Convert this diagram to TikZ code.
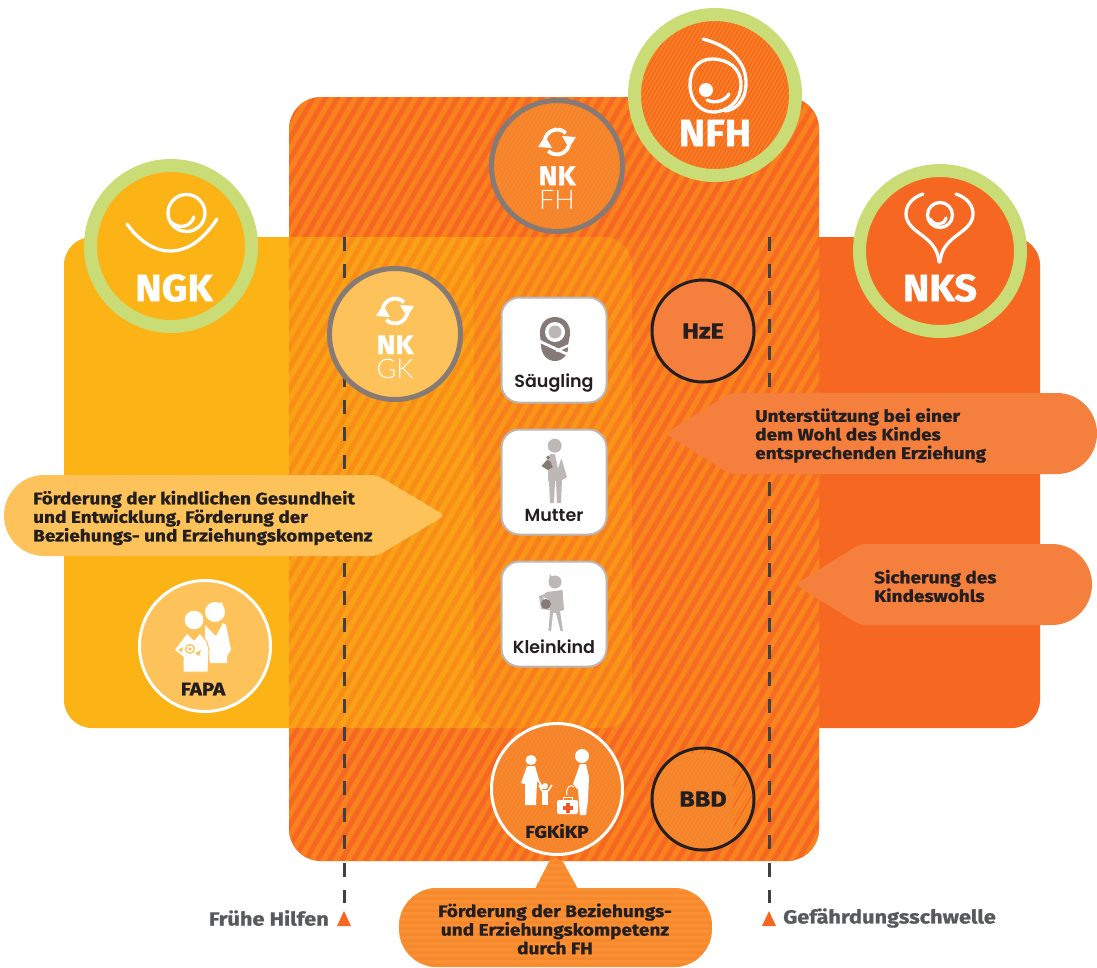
\documentclass[tikz,border=0pt]{standalone}
\usepackage{fontspec}
\setmainfont{Fira Sans}
\newfontfamily\din[UprightFont=* Bold,FakeBold=1.0,FakeStretch=1.145]{Fira Sans}
\newfontfamily\dinhead[UprightFont=* Bold,FakeBold=1.3,FakeStretch=1.05]{Fira Sans}
\newfontfamily\dinlight{Lato Light}
\newfontfamily\gothic{Poppins SemiBold}
\definecolor{cyellow}{HTML}{FBB316}
\definecolor{corange}{HTML}{F66722}
\definecolor{cgreen}{HTML}{C9DC76}
\definecolor{cpale}{HTML}{FEC25B}
\definecolor{cbubble}{HTML}{F5803E}
\definecolor{cgrey}{HTML}{857A75}
\definecolor{clgrey}{HTML}{BDB8B5}
\definecolor{cdark}{HTML}{231F20}
\definecolor{clabel}{HTML}{58595B}
\definecolor{cdash}{HTML}{404041}
\definecolor{topstripe}{HTML}{F9821E}
\definecolor{leftbase}{HTML}{F98E17}
\definecolor{leftstripe}{HTML}{FBA118}
\definecolor{rightbase}{HTML}{F56C22}
\definecolor{rightstripe}{HTML}{F9851C}
\definecolor{midbase}{HTML}{F77F1E}
\definecolor{midstripe}{HTML}{FA9517}
\definecolor{finebase}{HTML}{F5802E}
\definecolor{finestripe}{HTML}{F78A2A}
\definecolor{nfhstripe}{HTML}{F9811F}
\definecolor{callbase}{HTML}{F7892B}
\definecolor{callstripe}{HTML}{F99035}
\definecolor{crossred}{HTML}{F0592A}
\newcommand{\stripefill}[2]{%
  \fill[#1] (0,0) rectangle (1097,967);
  \fill[#2] \foreach \sx in {289,301,...,1380} {(\sx,0) -- (\sx+6,0) -- (\sx+6-558,967) -- (\sx-558,967) -- cycle};
}
\newcommand{\finestripes}[3]{% base, stripe, radius
  \begin{scope}[shift={(path picture bounding box.center)}]
  \fill[#1] (-#3,-#3) rectangle (#3,#3);
  \foreach \sx in {-160,-156,...,160} \draw[#2,line width=1.7pt] (\sx-50,87) -- (\sx+50,-87);
  \end{scope}
}
\newcommand{\recyc}[2]{%
  \begin{scope}[shift={(#1,#2)},white]
   \draw[line width=3.8pt] (165:12.5pt) arc[start angle=165,end angle=45,radius=12.5pt];
   \draw[line width=3.8pt] (-15:12.5pt) arc[start angle=-15,end angle=-135,radius=12.5pt];
   \fill (5,-6) -- (19,-5) -- (12,6) -- cycle;
   \fill (-5,6) -- (-19,5) -- (-12,-6) -- cycle;
  \end{scope}
}
\tikzset{x=1pt,y=-1pt,
  ringnode/.style={circle,draw=cgreen,line width=13pt,minimum size=161pt,inner sep=0pt},
  nknode/.style={circle,draw=cgrey,line width=5pt,minimum size=131pt,inner sep=0pt},
  darknode/.style={circle,draw=cdark,line width=3pt,minimum size=102pt,inner sep=0pt,text=cdark,font=\din\fontsize{22}{22}\selectfont},
  whitenode/.style={circle,draw=white,line width=3pt,minimum size=131pt,inner sep=0pt},
  cardnode/.style={rounded corners=18pt,draw=clgrey,line width=2pt,fill=white,minimum size=105pt,inner sep=0pt},
  headtext/.style={text=white,inner sep=0pt,font=\dinhead\fontsize{38}{38}\selectfont},
  nktext/.style={text=white,inner sep=0pt,align=center,font=\dinhead\fontsize{27}{24.5}\selectfont},
  cardtext/.style={text=cdark,inner sep=0pt,font=\gothic\fontsize{17.5}{18}\selectfont},
  bubbletext/.style={text=cdark,inner sep=0pt,align=left,font=\din\fontsize{16.6}{18.6}\selectfont},
  smalltext/.style={text=cdark,inner sep=0pt,font=\din\fontsize{17}{17}\selectfont},
  marktext/.style={text=clabel,inner sep=0pt,font=\din\fontsize{19}{19}\selectfont},
  iconline/.style={draw=white,line width=3.3pt,line cap=round,fill=none},
  dashline/.style={draw=cdash,line width=3pt,dash pattern=on 14pt off 13.2pt},
}
\begin{document}
\begin{tikzpicture}
\useasboundingbox (0,0) rectangle (1097,967);
% side panels
\fill[cyellow,rounded corners=28pt] (64,237) rectangle (320,728);
\fill[corange,rounded corners=28pt] (780,237) rectangle (1040,728);
% central striped panel with the overlapping zones
\begin{scope}
  \clip[rounded corners=32pt] (289,97) rectangle (819,861);
  \stripefill{corange}{topstripe}
  \begin{scope}
    \clip[rounded corners=28pt] (200,237) rectangle (632,728);
    \stripefill{leftbase}{leftstripe}
  \end{scope}
  \begin{scope}
    \clip[rounded corners=28pt] (474,237) rectangle (1000,728);
    \stripefill{rightbase}{rightstripe}
    \begin{scope}
      \clip[rounded corners=28pt] (200,237) rectangle (632,728);
      \stripefill{midbase}{midstripe}
    \end{scope}
  \end{scope}
\end{scope}
% threshold lines
\coordinate (fhtop) at (344,237);
\coordinate (fhend) at (344,903);
\coordinate (gstop) at (769,237);
\coordinate (gsend) at (769,903);
\draw[dashline] (fhtop) -- (fhend);
\draw[dashline] (gstop) -- (gsend);
% main circles
\node[nknode,fill=finebase,path picture={\finestripes{finebase}{finestripe}{70}}] (nkfh) at (557,166) {};
\node[ringnode,fill=corange,path picture={\finestripes{corange}{nfhstripe}{82}}] (nfh) at (715,95) {};
\node[ringnode,fill=cyellow] (ngk) at (171,246) {};
\node[ringnode,fill=corange] (nks) at (940,251) {};
\node[nknode,fill=cpale] (nkgk) at (395,334) {};
\node[darknode,fill=cbubble] (hze) at (703,331) {HzE};
\node[whitenode,fill=cpale] (fapa) at (205,646) {};
\node[whitenode,path picture={\finestripes{finebase}{finestripe}{70}}] (fgk) at (557,789) {};
\node[darknode,path picture={\finestripes{finebase}{finestripe}{54}}] (bbd) at (703,799) {BBD};
% head labels
\node[headtext] (nfhlabel) at (715,133) {NFH};
\node[headtext] (ngklabel) at (174,288) {NGK};
\node[headtext] (nkslabel) at (940,288) {NKS};
\node[nktext] (nkfhlabel) at (557,188) {NK\\{\dinlight FH}};
\node[nktext] (nkgklabel) at (395,357) {NK\\{\dinlight GK}};
% icons
\draw[iconline] (703,39) .. controls (730,46) and (747,62) .. (746,85) .. controls (745,102) and (735,110) .. (725,111);
\draw[iconline] (741,85) .. controls (741,100) and (729,112) .. (713,112) .. controls (699,112) and (690,99) .. (690,85) .. controls (690,70) and (698,59) .. (712,59) .. controls (728,59) and (741,68) .. (741,85);
\draw[iconline] (729,94) .. controls (725,101) and (715,104) .. (707,100);
\fill[white] (706,90) circle[radius=7pt];
\draw[iconline] (127,224) .. controls (140,242) and (155,251) .. (170,251) .. controls (190,251) and (205,237) .. (217,219);
\draw[iconline] (186.5,213) circle[radius=18.5pt];
\draw[iconline] (171,222) .. controls (178,229) and (190,228) .. (194,217);
\draw[iconline] (923,194) .. controls (911,198) and (906,206) .. (906,214) .. controls (906,224) and (915,230) .. (923,236) .. controls (932,243) and (938,250) .. (939,262);
\draw[iconline] (956,194) .. controls (968,198) and (973,206) .. (973,214) .. controls (973,224) and (964,230) .. (956,236) .. controls (947,243) and (941,250) .. (940,262);
\draw[iconline] (940,215) circle[radius=12.5pt];
\draw[iconline] (930,219) .. controls (934,226) and (944,226) .. (946,218);
% recycling marks
\recyc{557}{142}
\recyc{395}{311}
% cards
\node[cardnode] (card1) at (554,350) {};
\node[cardnode] (card2) at (554,482) {};
\node[cardnode] (card3) at (554,614) {};
\node[cardtext] (card1t) at (554,383) {Säugling};
\node[cardtext] (card2t) at (554,515) {Mutter};
\node[cardtext] (card3t) at (554,647) {Kleinkind};
% baby
\fill[cgrey] (555,317) .. controls (565,317) and (570,325) .. (570,332) .. controls (570,338) and (568.5,341) .. (568,345) .. controls (569,354) and (563,361) .. (555,361) .. controls (547,361) and (541,354) .. (541,345) .. controls (541,341) and (540,338) .. (540,332) .. controls (540,325) and (545,317) .. (555,317) -- cycle;
\fill[white] (555,332) circle[radius=10pt];
\fill[clgrey] (555,332) circle[radius=6.5pt];
\draw[white,line width=2.8pt] (537,340) -- (571,356);
\draw[white,line width=2.4pt] (572,344) -- (556,351);
% mother
\fill[clgrey] (554.7,445.7) circle[radius=7pt];
\fill[clgrey] (550,454) -- (560,454) -- (567,477) -- (562,480) -- (561,503) -- (557,503) -- (556,481) -- (555,481) -- (554,503) -- (550,503) -- (549,481) -- (548,481) -- (548,470) -- (541.5,466) -- (548,458) -- cycle;
\fill[white] (555,454) -- (563,453) -- (558,468) -- cycle;
\fill[cgrey] (548,464) circle[radius=3.5pt];
\fill[cgrey] (541.5,466) -- (548,460) -- (553,467) -- (548,470) -- cycle;
\fill[cgrey] (548,457.5) circle[radius=1.8pt];
% toddler
\fill[clgrey] (555,582) circle[radius=6.5pt];
\fill[clgrey] (550,574) -- (553,578) -- (549,580) -- cycle;
\fill[clgrey] (547,592) -- (562.5,590) -- (564,610) -- (560,611) -- (563,631) -- (560.5,631) -- (556,613) -- (553,613) -- (551,631) -- (548.5,631) -- (550,611) -- (548,599) -- (541,596) -- cycle;
\fill[clgrey] (539,596) -- (542,595) -- (550,610) -- (541,609) -- cycle;
\fill[cgrey] (546,604) circle[radius=5pt];
% FAPA figures
\fill[white] (215,612) circle[radius=10pt];
\fill[white] (222,602) -- (225,612) -- (216,606) -- cycle;
\fill[white] (205,625) -- (212,632) -- (216,636) -- (223,623) -- (226,625) -- (231,650) -- (227,656) -- (227,663) -- (210,663) -- (205,640) -- cycle;
\fill[white,draw=cpale,line width=1pt] (194,620) circle[radius=10pt];
\fill[white,draw=cpale,line width=1pt] (187,633) -- (194,640) -- (200,633) -- (207,642) -- (209,650) -- (208,672) -- (183,672) -- (183,657) -- (174,650) -- cycle;
\fill[cpale] (190,649) circle[radius=5pt];
\fill[white] (190,649) circle[radius=3.5pt];
\fill[cpale] (190,649) circle[radius=1.8pt];
\fill[cpale] (183,647) -- (178,650) -- (182,652) -- cycle;
\fill[cpale] (195,653) -- (201,650) -- (199,656) -- cycle;
\node[text=cdark,inner sep=0pt,font=\din\fontsize{18}{18}\selectfont] (fapat) at (203,689) {FAPA};
% FGKiKP figures
\fill[white] (531,760) ellipse[x radius=5.5pt,y radius=5pt];
\fill[white] (527,766) -- (535,766) -- (539,780) -- (537,782) -- (536,805) -- (525,805) -- (525,784) -- (521,783) -- cycle;
\draw[white,line width=1.8pt] (537,778) -- (543,789);
\fill[white] (545,786) circle[radius=3pt];
\fill[white] (542,790) -- (548,790) -- (548,805) -- (542,805) -- cycle;
\draw[white,line width=1.6pt] (542,791) -- (539,785) (548,791) -- (552,785);
\fill[white] (582,756) circle[radius=7pt];
\fill[white] (580,764) -- (586,764) -- (589,777) -- (588,800) -- (586,815) -- (580,815) -- (578,790) -- (573,784) -- cycle;
\draw[white,line width=1pt] (567,795) .. controls (565,788) and (571,783) .. (574,787);
\fill[white,rounded corners=2pt] (557,800) rectangle (578,814);
\draw[white,line width=1pt] (563,800) -- (563,797) -- (572,797) -- (572,800);
\fill[crossred] (565.5,802.5) rectangle (569.5,812.5);
\fill[crossred] (562.5,805.5) rectangle (572.5,809.5);
\node[smalltext] (fgkt) at (557,831) {FGKiKP};
% callouts
\fill[cpale] (44,475) -- (200,475) [rounded corners=6pt] -- (377,475) -- (445,515.5) -- (377,556) -- (200,556) [sharp corners] -- (44,556) arc[start angle=270,end angle=90,x radius=40pt,y radius=40.5pt] -- cycle;
\node[bubbletext,anchor=west] (b1) at (33,518) {Förderung der kindlichen Gesundheit\\und Entwicklung, Förderung der\\Beziehungs- und Erziehungskompetenz};
\fill[cbubble] (1057,393) -- (900,393) [rounded corners=6pt] -- (730,393) -- (665,433.5) -- (730,474) -- (900,474) [sharp corners] -- (1057,474) arc[start angle=-90,end angle=90,x radius=40pt,y radius=40.5pt] -- cycle;
\node[bubbletext,anchor=west] (b2) at (755,435.5) {Unterstützung bei einer\\dem Wohl des Kindes\\entsprechenden Erziehung};
\fill[cbubble] (1052,544) -- (950,544) [rounded corners=6pt] -- (860,544) -- (795,584.5) -- (860,625) -- (950,625) [sharp corners] -- (1052,625) arc[start angle=-90,end angle=90,x radius=40pt,y radius=40.5pt] -- cycle;
\node[bubbletext,anchor=west] (b3) at (874,586) {Sicherung des\\Kindeswohls};
% bottom callout
\begin{scope}
  \clip[rounded corners=38pt] (399,888) rectangle (712,967);
  \fill[callbase] (399,888) rectangle (712,967);
  \foreach \hy in {888,894,...,967} \fill[callstripe] (399,\hy) rectangle (712,\hy+3);
\end{scope}
\begin{scope}
  \clip (535,889) -- (549,862) -- (556,858) -- (563,862) -- (578,889) -- cycle;
  \fill[callbase] (530,855) rectangle (580,890);
  \foreach \hy in {858,864,...,888} \fill[callstripe] (530,\hy) rectangle (580,\hy+3);
\end{scope}
\node[bubbletext,align=center] (b4) at (555,929) {Förderung der Beziehungs-\\und Erziehungskompetenz\\durch FH};
% threshold marks
\fill[corange] (344,911) -- (351,926) -- (337,926) -- cycle;
\fill[corange] (769,911) -- (776,926) -- (762,926) -- cycle;
\node[marktext,anchor=east] (fhlabel) at (329,918) {Frühe Hilfen};
\node[marktext,anchor=west] (gslabel) at (783,918) {Gefährdungsschwelle};
\end{tikzpicture}
\end{document}
